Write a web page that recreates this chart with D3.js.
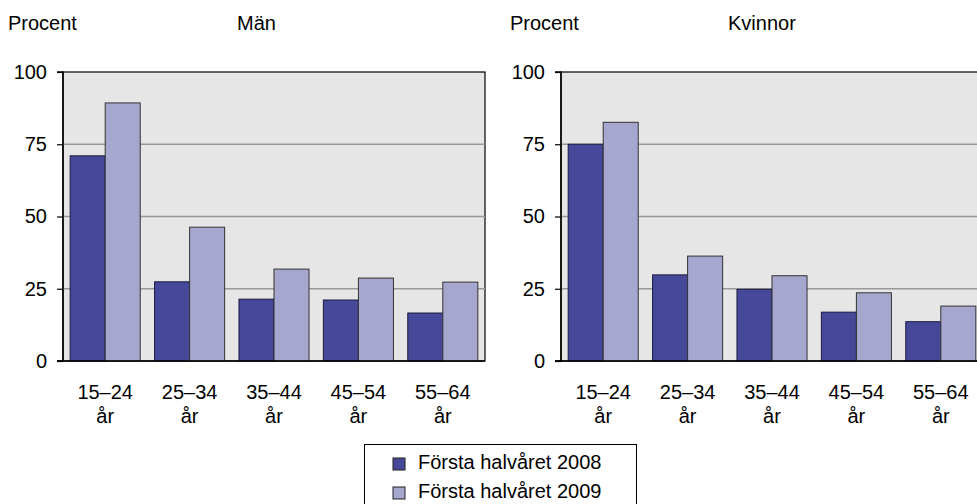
<!DOCTYPE html>
<html><head><meta charset="utf-8">
<script src="https://cdn.jsdelivr.net/npm/d3@7"></script>
<style>
body{margin:0;background:#fff;}
text{font-family:"Liberation Sans",Arial,sans-serif;fill:#000;}
</style></head>
<body><svg id="c" width="977" height="504"></svg>
<script>
const categories = ["15–24 år","25–34 år","35–44 år","45–54 år","55–64 år"];
const seriesNames = ["Första halvåret 2008","Första halvåret 2009"];
const manValues2008 = [71.0, 27.4, 21.4, 21.1, 16.6];
const manValues2009 = [89.3, 46.3, 31.8, 28.7, 27.3];
const kvinnorValues2008 = [75.0, 29.8, 24.8, 16.9, 13.6];
const kvinnorValues2009 = [82.6, 36.3, 29.5, 23.6, 19.0];
const yTicks = [0, 25, 50, 75, 100];
const panelTitles = ["Män","Kvinnor"];
const yLabel = "Procent";
const colors = ["#464899","#a5a7cf"];

const svg = d3.select("#c");
const FS = 20;
const panels = [
  {x0:63, x1:485, title:panelTitles[0], data:[manValues2008, manValues2009], labelX:8, titleX:237},
  {x0:561, x1:983, title:panelTitles[1], data:[kvinnorValues2008, kvinnorValues2009], labelX:510, titleX:728}
];
const yTop = 72, yBot = 361;
const y = d3.scaleLinear().domain([0,100]).range([yBot,yTop]);

panels.forEach(p => {
  const g = svg.append("g");
  const x = d3.scaleBand().domain(categories).range([p.x0,p.x1]).paddingInner(0.17).paddingOuter(0.085);
  const xs = d3.scaleBand().domain([0,1]).range([0,x.bandwidth()]);
  g.append("rect").attr("x",p.x0).attr("y",yTop).attr("width",p.x1-p.x0).attr("height",yBot-yTop)
    .attr("fill","#e6e6e6").attr("stroke","#000").attr("stroke-width",1.2);
  g.selectAll(".grid").data(yTicks.filter(t=>t>0 && t<100)).join("line")
    .attr("x1",p.x0).attr("x2",p.x1).attr("y1",d=>y(d)).attr("y2",d=>y(d))
    .attr("stroke","#999").attr("stroke-width",1.5);
  categories.forEach((c,i) => {
    [0,1].forEach(s => {
      const v = p.data[s][i];
      g.append("rect").attr("x",x(c)+xs(s)).attr("y",y(v)).attr("width",xs.bandwidth()).attr("height",y(0)-y(v))
        .attr("fill",colors[s]).attr("stroke",s===0?"#1a1a40":"#333").attr("stroke-width",1);
    });
  });
  const ax = d3.axisLeft(y).tickValues(yTicks).tickSize(6).tickPadding(10);
  const ag = g.append("g").attr("transform",`translate(${p.x0},0)`).call(ax);
  ag.select(".domain").attr("stroke","#000").attr("stroke-width",1.5).attr("d",`M-6,${yTop}H0V${yBot}H-6`);
  ag.selectAll("line").attr("stroke","#000").attr("stroke-width",1.2);
  ag.selectAll("text").attr("font-size",FS).attr("font-family","Liberation Sans, Arial, sans-serif").attr("fill","#000");
  g.append("line").attr("x1",p.x0-6).attr("x2",p.x1).attr("y1",yBot).attr("y2",yBot).attr("stroke","#000").attr("stroke-width",1.5);
  categories.forEach(c => {
    const parts = c.split(" ");
    const t = g.append("text").attr("text-anchor","middle").attr("font-size",FS).attr("x",x(c)+x.bandwidth()/2);
    t.append("tspan").attr("x",x(c)+x.bandwidth()/2).attr("y",399).text(parts[0]);
    t.append("tspan").attr("x",x(c)+x.bandwidth()/2).attr("y",423).text(parts[1]);
  });
  svg.append("text").attr("x",p.labelX).attr("y",30).attr("font-size",FS).text(yLabel);
  svg.append("text").attr("x",p.titleX).attr("y",30).attr("font-size",FS).text(p.title);
});

const lg = svg.append("g");
lg.append("rect").attr("x",364.5).attr("y",444.5).attr("width",272).attr("height",80).attr("fill","#fff").attr("stroke","#000").attr("stroke-width",1);
seriesNames.forEach((n,i) => {
  lg.append("rect").attr("x",393).attr("y",458+i*29).attr("width",12).attr("height",12).attr("fill",colors[i]).attr("stroke","#222").attr("stroke-width",1);
  lg.append("text").attr("x",418).attr("y",469+i*29).attr("font-size",FS).text(n);
});
</script></body></html>
